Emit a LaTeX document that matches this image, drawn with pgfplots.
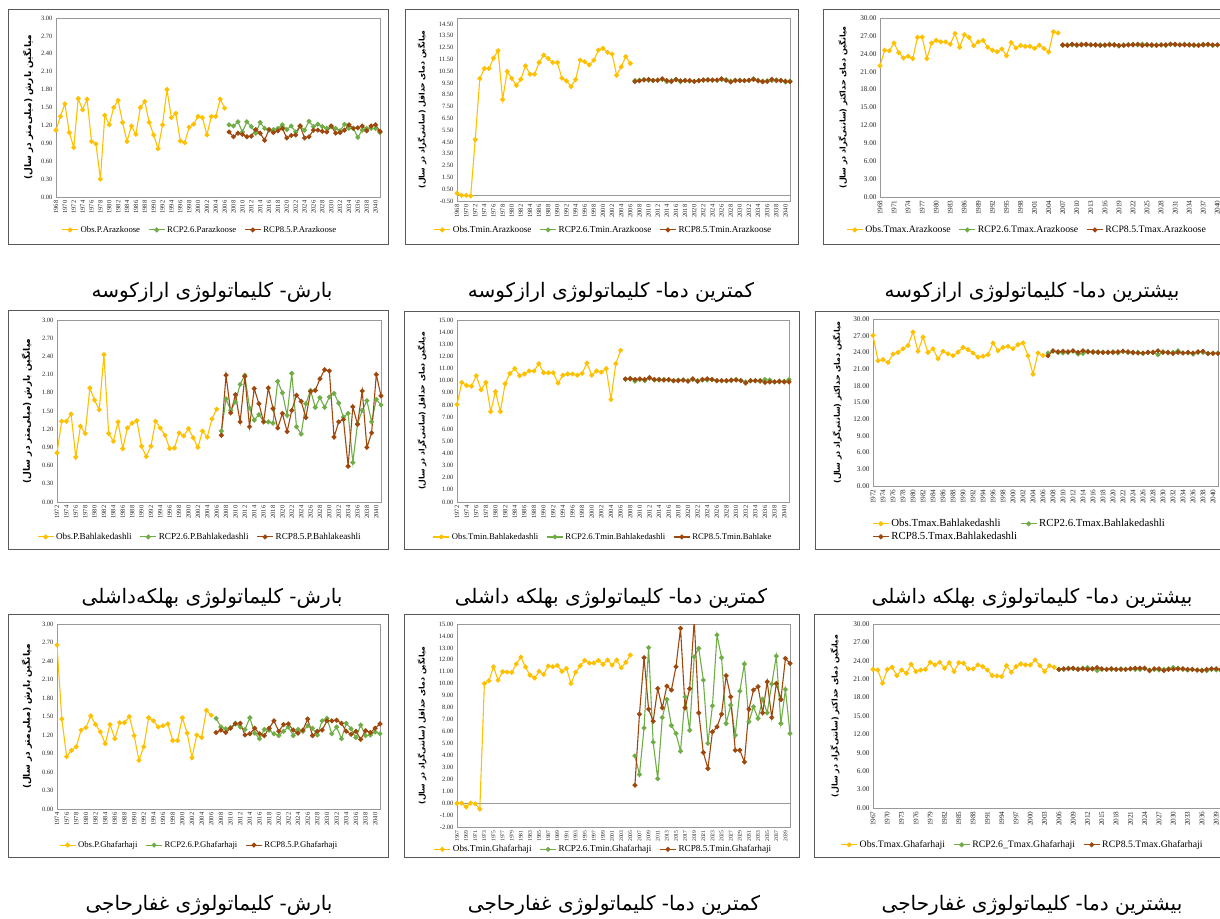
\documentclass[border=0pt]{standalone}
\usepackage{pgfplots}
\usepackage{pgfplotstable}
\pgfplotsset{compat=1.18}
\usepackage{fontspec}
\setmainfont{Liberation Serif}
\newfontfamily\arabicfont[Script=Arabic]{DejaVu Sans}
\TeXXeTstate=1
\definecolor{obsc}{HTML}{FFC000}
\definecolor{gtwo}{HTML}{70AD47}
\definecolor{beight}{HTML}{9E480E}

\pgfplotsset{
  panel/.style={
    scale only axis, anchor=north west, clip=true,
    axis line style={draw=black!40, line width=0.9pt},
    major tick length=0pt,
    tick label style={font=\fontsize{6.5}{7.5}\selectfont, text=black!85},
    /pgf/number format/assume math mode=true,
    x tick label style={rotate=90, anchor=east, /pgf/number format/1000 sep={}},
    y tick label style={/pgf/number format/fixed, /pgf/number format/fixed zerofill, /pgf/number format/precision=2},
    ylabel style={font=\arabicfont\bfseries, anchor=center},
    legend style={draw=none, fill=none, font=\fontsize{8.7}{10}\selectfont, anchor=center,
      /tikz/every even column/.append style={column sep=6pt}},
    legend columns=-1,
    legend cell align=left,
    legend image code/.code={\draw[mark repeat=2,mark phase=2,##1] plot coordinates {(0pt,0pt) (8pt,0pt) (16pt,0pt)};},
  },
  midcol/.style={legend style={font=\fontsize{9.2}{10.5}\selectfont}},
  rightcol/.style={tick label style={font=\fontsize{7.2}{8}\selectfont},
    legend style={font=\fontsize{9.8}{11}\selectfont}},
  obs/.style={color=obsc, line width=1.1pt, mark=*, mark size=1.9pt},
  rtwo/.style={color=gtwo, line width=1.1pt, mark=*, mark size=1.9pt},
  reight/.style={color=beight, line width=1.1pt, mark=*, mark size=1.9pt},
}

% ---------------- Panel 1: P Arazkoose
\pgfplotstableread{
year obs r26 r85
1968 1.12 nan nan
1969 1.35 nan nan
1970 1.56 nan nan
1971 1.08 nan nan
1972 0.83 nan nan
1973 1.65 nan nan
1974 1.46 nan nan
1975 1.64 nan nan
1976 0.93 nan nan
1977 0.89 nan nan
1978 0.30 nan nan
1979 1.37 nan nan
1980 1.21 nan nan
1981 1.50 nan nan
1982 1.62 nan nan
1983 1.25 nan nan
1984 0.93 nan nan
1985 1.19 nan nan
1986 1.05 nan nan
1987 1.50 nan nan
1988 1.60 nan nan
1989 1.25 nan nan
1990 1.04 nan nan
1991 0.81 nan nan
1992 1.21 nan nan
1993 1.80 nan nan
1994 1.33 nan nan
1995 1.40 nan nan
1996 0.94 nan nan
1997 0.91 nan nan
1998 1.17 nan nan
1999 1.22 nan nan
2000 1.35 nan nan
2001 1.33 nan nan
2002 1.04 nan nan
2003 1.35 nan nan
2004 1.35 nan nan
2005 1.64 nan nan
2006 1.49 nan nan
2007 nan 1.21 1.09
2008 nan 1.19 1.01
2009 nan 1.26 1.07
2010 nan 1.09 1.05
2011 nan 1.26 1.01
2012 nan 1.18 1.02
2013 nan 1.07 1.13
2014 nan 1.25 1.07
2015 nan 1.15 0.95
2016 nan 1.12 1.13
2017 nan 1.13 1.08
2018 nan 1.15 1.11
2019 nan 1.21 1.15
2020 nan 1.13 0.99
2021 nan 1.19 1.03
2022 nan 1.09 1.04
2023 nan 1.19 1.19
2024 nan 1.12 0.99
2025 nan 1.27 1.01
2026 nan 1.18 1.12
2027 nan 1.22 1.12
2028 nan 1.18 1.10
2029 nan 1.15 1.09
2030 nan 1.18 1.19
2031 nan 1.15 1.07
2032 nan 1.11 1.08
2033 nan 1.22 1.12
2034 nan 1.15 1.21
2035 nan 1.15 1.15
2036 nan 1.00 1.16
2037 nan 1.12 1.19
2038 nan 1.15 1.11
2039 nan 1.15 1.19
2040 nan 1.15 1.21
2041 nan 1.08 1.10
}\tA

% ---------------- Panel 2: Tmin Arazkoose
\pgfplotstableread{
year obs r26 r85
1968 0.15 nan nan
1969 -0.02 nan nan
1970 -0.02 nan nan
1971 -0.07 nan nan
1972 4.70 nan nan
1973 9.87 nan nan
1974 10.72 nan nan
1975 10.72 nan nan
1976 11.60 nan nan
1977 12.23 nan nan
1978 8.10 nan nan
1979 10.47 nan nan
1980 9.87 nan nan
1981 9.30 nan nan
1982 9.81 nan nan
1983 10.95 nan nan
1984 10.24 nan nan
1985 10.24 nan nan
1986 11.23 nan nan
1987 11.86 nan nan
1988 11.57 nan nan
1989 11.23 nan nan
1990 11.23 nan nan
1991 9.90 nan nan
1992 9.67 nan nan
1993 9.19 nan nan
1994 9.78 nan nan
1995 11.43 nan nan
1996 11.29 nan nan
1997 11.03 nan nan
1998 11.43 nan nan
1999 12.28 nan nan
2000 12.43 nan nan
2001 12.09 nan nan
2002 11.94 nan nan
2003 10.15 nan nan
2004 10.86 nan nan
2005 11.74 nan nan
2006 11.15 nan nan
2007 nan 9.70 9.62
2008 nan 9.72 9.68
2009 nan 9.78 9.75
2010 nan 9.72 9.80
2011 nan 9.70 9.72
2012 nan 9.75 9.72
2013 nan 9.80 9.85
2014 nan 9.62 9.70
2015 nan 9.70 9.62
2016 nan 9.80 9.78
2017 nan 9.60 9.68
2018 nan 9.72 9.70
2019 nan 9.65 9.70
2020 nan 9.65 9.62
2021 nan 9.68 9.70
2022 nan 9.72 9.75
2023 nan 9.78 9.75
2024 nan 9.72 9.75
2025 nan 9.72 9.75
2026 nan 9.78 9.85
2027 nan 9.78 9.72
2028 nan 9.65 9.58
2029 nan 9.72 9.70
2030 nan 9.72 9.70
2031 nan 9.70 9.70
2032 nan 9.72 9.72
2033 nan 9.85 9.80
2034 nan 9.72 9.68
2035 nan 9.65 9.60
2036 nan 9.68 9.62
2037 nan 9.72 9.80
2038 nan 9.75 9.70
2039 nan 9.68 9.72
2040 nan 9.58 9.65
2041 nan 9.65 9.60
}\tB

% ---------------- Panel 3: Tmax Arazkoose
\pgfplotstableread{
year obs r26 r85
1968 22.00 nan nan
1969 24.60 nan nan
1970 24.50 nan nan
1971 25.80 nan nan
1972 24.20 nan nan
1973 23.30 nan nan
1974 23.60 nan nan
1975 23.20 nan nan
1976 26.75 nan nan
1977 26.80 nan nan
1978 23.20 nan nan
1979 25.80 nan nan
1980 26.25 nan nan
1981 26.00 nan nan
1982 26.00 nan nan
1983 25.60 nan nan
1984 27.40 nan nan
1985 25.10 nan nan
1986 27.20 nan nan
1987 26.75 nan nan
1988 25.35 nan nan
1989 26.00 nan nan
1990 26.25 nan nan
1991 25.10 nan nan
1992 24.60 nan nan
1993 24.35 nan nan
1994 24.80 nan nan
1995 23.70 nan nan
1996 25.90 nan nan
1997 24.95 nan nan
1998 25.40 nan nan
1999 25.25 nan nan
2000 25.25 nan nan
2001 24.90 nan nan
2002 25.45 nan nan
2003 24.90 nan nan
2004 24.30 nan nan
2005 27.70 nan nan
2006 27.50 nan nan
2007 nan 25.4 25.5
2008 nan 25.5 25.4
2009 nan 25.5 25.6
2010 nan 25.4 25.5
2011 nan 25.6 25.5
2012 nan 25.5 25.6
2013 nan 25.5 25.5
2014 nan 25.5 25.5
2015 nan 25.5 25.4
2016 nan 25.4 25.5
2017 nan 25.6 25.5
2018 nan 25.5 25.5
2019 nan 25.3 25.4
2020 nan 25.5 25.4
2021 nan 25.5 25.5
2022 nan 25.6 25.5
2023 nan 25.5 25.6
2024 nan 25.6 25.4
2025 nan 25.5 25.5
2026 nan 25.4 25.5
2027 nan 25.5 25.4
2028 nan 25.5 25.5
2029 nan 25.4 25.5
2030 nan 25.6 25.6
2031 nan 25.5 25.6
2032 nan 25.5 25.5
2033 nan 25.6 25.5
2034 nan 25.5 25.5
2035 nan 25.4 25.5
2036 nan 25.5 25.4
2037 nan 25.6 25.5
2038 nan 25.5 25.6
2039 nan 25.4 25.5
2040 nan 25.5 25.5
2041 nan 25.4 25.5
}\tC

% ---------------- Panel 4: P Bahlakedashli
\pgfplotstableread{
year obs r26 r85
1972 0.81 nan nan
1973 1.33 nan nan
1974 1.33 nan nan
1975 1.45 nan nan
1976 0.74 nan nan
1977 1.25 nan nan
1978 1.13 nan nan
1979 1.88 nan nan
1980 1.68 nan nan
1981 1.52 nan nan
1982 2.43 nan nan
1983 1.13 nan nan
1984 1.00 nan nan
1985 1.32 nan nan
1986 0.88 nan nan
1987 1.22 nan nan
1988 1.30 nan nan
1989 1.34 nan nan
1990 0.92 nan nan
1991 0.75 nan nan
1992 0.92 nan nan
1993 1.33 nan nan
1994 1.22 nan nan
1995 1.10 nan nan
1996 0.88 nan nan
1997 0.89 nan nan
1998 1.14 nan nan
1999 1.09 nan nan
2000 1.21 nan nan
2001 1.06 nan nan
2002 0.90 nan nan
2003 1.17 nan nan
2004 1.07 nan nan
2005 1.37 nan nan
2006 1.53 nan nan
2007 nan 1.17 1.10
2008 nan 1.70 2.09
2009 nan 1.51 1.47
2010 nan 1.65 1.77
2011 nan 1.94 1.32
2012 nan 2.09 2.07
2013 nan 1.55 1.24
2014 nan 1.35 1.87
2015 nan 1.44 1.62
2016 nan 1.33 1.32
2017 nan 1.32 1.88
2018 nan 1.30 1.54
2019 nan 1.99 1.22
2020 nan 1.80 1.46
2021 nan 1.43 1.16
2022 nan 2.12 1.51
2023 nan 1.24 1.76
2024 nan 1.12 1.66
2025 nan 1.62 1.39
2026 nan 1.84 1.82
2027 nan 1.56 1.84
2028 nan 1.72 2.03
2029 nan 1.56 2.18
2030 nan 1.73 2.16
2031 nan 1.79 1.07
2032 nan 1.63 1.32
2033 nan 1.40 1.36
2034 nan 1.46 0.59
2035 nan 0.65 1.57
2036 nan 1.29 1.28
2037 nan 1.51 1.83
2038 nan 1.67 0.90
2039 nan 1.32 1.14
2040 nan 1.69 2.10
2041 nan 1.60 1.75
}\tD

% ---------------- Panel 5: Tmin Bahlakedashli
\pgfplotstableread{
year obs r26 r85
1972 8.04 nan nan
1973 9.85 nan nan
1974 9.60 nan nan
1975 9.55 nan nan
1976 10.40 nan nan
1977 9.25 nan nan
1978 9.85 nan nan
1979 7.45 nan nan
1980 9.10 nan nan
1981 7.45 nan nan
1982 9.75 nan nan
1983 10.60 nan nan
1984 11.00 nan nan
1985 10.40 nan nan
1986 10.55 nan nan
1987 10.80 nan nan
1988 10.80 nan nan
1989 11.40 nan nan
1990 10.65 nan nan
1991 10.65 nan nan
1992 10.65 nan nan
1993 9.80 nan nan
1994 10.45 nan nan
1995 10.55 nan nan
1996 10.55 nan nan
1997 10.45 nan nan
1998 10.60 nan nan
1999 11.45 nan nan
2000 10.45 nan nan
2001 10.80 nan nan
2002 10.70 nan nan
2003 11.00 nan nan
2004 8.45 nan nan
2005 11.40 nan nan
2006 12.50 nan nan
2007 nan 10.10 10.15
2008 nan 10.20 10.15
2009 nan 9.95 10.10
2010 nan 10.10 10.15
2011 nan 10.00 10.10
2012 nan 10.20 10.25
2013 nan 10.05 10.10
2014 nan 10.05 10.10
2015 nan 10.10 10.05
2016 nan 10.05 10.10
2017 nan 10.00 10.00
2018 nan 10.05 10.00
2019 nan 10.05 10.05
2020 nan 10.00 9.95
2021 nan 10.10 10.15
2022 nan 10.00 9.95
2023 nan 10.05 10.10
2024 nan 10.05 10.15
2025 nan 10.10 10.10
2026 nan 10.00 10.00
2027 nan 10.00 10.00
2028 nan 10.00 10.00
2029 nan 10.00 10.05
2030 nan 10.10 10.05
2031 nan 10.00 10.00
2032 nan 9.90 9.80
2033 nan 10.00 10.00
2034 nan 10.00 10.00
2035 nan 9.95 10.00
2036 nan 10.10 9.85
2037 nan 10.05 9.90
2038 nan 9.90 9.90
2039 nan 9.90 9.95
2040 nan 9.95 9.90
2041 nan 10.10 9.90
}\tE

% ---------------- Panel 6: Tmax Bahlakedashli
\pgfplotstableread{
year obs r26 r85
1972 27.05 nan nan
1973 22.50 nan nan
1974 22.70 nan nan
1975 22.20 nan nan
1976 23.70 nan nan
1977 24.00 nan nan
1978 24.65 nan nan
1979 25.25 nan nan
1980 27.65 nan nan
1981 24.20 nan nan
1982 26.75 nan nan
1983 24.00 nan nan
1984 24.65 nan nan
1985 22.85 nan nan
1986 24.20 nan nan
1987 23.75 nan nan
1988 23.40 nan nan
1989 24.05 nan nan
1990 24.90 nan nan
1991 24.50 nan nan
1992 23.90 nan nan
1993 23.15 nan nan
1994 23.30 nan nan
1995 23.60 nan nan
1996 25.70 nan nan
1997 24.30 nan nan
1998 24.90 nan nan
1999 25.10 nan nan
2000 24.65 nan nan
2001 25.40 nan nan
2002 25.70 nan nan
2003 23.40 nan nan
2004 20.10 nan nan
2005 23.90 nan nan
2006 23.45 nan nan
2007 nan 23.9 23.4
2008 nan 24.2 24.3
2009 nan 24.0 24.1
2010 nan 23.9 24.2
2011 nan 24.0 24.1
2012 nan 24.2 24.3
2013 nan 23.7 24.0
2014 nan 23.8 24.3
2015 nan 24.2 24.1
2016 nan 24.0 24.1
2017 nan 24.1 24.0
2018 nan 24.0 24.0
2019 nan 24.0 24.0
2020 nan 24.1 24.0
2021 nan 23.9 24.1
2022 nan 24.2 24.2
2023 nan 24.0 24.1
2024 nan 23.9 24.0
2025 nan 24.0 23.9
2026 nan 23.8 23.9
2027 nan 24.0 24.0
2028 nan 24.0 24.0
2029 nan 23.6 24.3
2030 nan 24.1 24.0
2031 nan 23.9 24.0
2032 nan 24.0 23.8
2033 nan 24.3 24.0
2034 nan 23.9 23.9
2035 nan 23.9 24.0
2036 nan 23.7 23.9
2037 nan 24.0 24.1
2038 nan 24.0 24.2
2039 nan 23.8 23.8
2040 nan 23.9 23.8
2041 nan 23.9 23.8
}\tF

% ---------------- Panel 7: P Ghafarhaji
\pgfplotstableread{
year obs r26 r85
1974 2.66 nan nan
1975 1.46 nan nan
1976 0.85 nan nan
1977 0.95 nan nan
1978 1.01 nan nan
1979 1.28 nan nan
1980 1.32 nan nan
1981 1.51 nan nan
1982 1.37 nan nan
1983 1.25 nan nan
1984 1.06 nan nan
1985 1.37 nan nan
1986 1.14 nan nan
1987 1.40 nan nan
1988 1.40 nan nan
1989 1.50 nan nan
1990 1.19 nan nan
1991 0.79 nan nan
1992 1.01 nan nan
1993 1.48 nan nan
1994 1.43 nan nan
1995 1.33 nan nan
1996 1.35 nan nan
1997 1.38 nan nan
1998 1.11 nan nan
1999 1.11 nan nan
2000 1.48 nan nan
2001 1.23 nan nan
2002 0.83 nan nan
2003 1.20 nan nan
2004 1.16 nan nan
2005 1.60 nan nan
2006 1.52 nan nan
2007 nan 1.47 1.24
2008 nan 1.33 1.28
2009 nan 1.30 1.24
2010 nan 1.32 1.31
2011 nan 1.39 1.38
2012 nan 1.33 1.39
2013 nan 1.29 1.20
2014 nan 1.48 1.22
2015 nan 1.23 1.31
2016 nan 1.14 1.22
2017 nan 1.29 1.19
2018 nan 1.28 1.31
2019 nan 1.22 1.43
2020 nan 1.19 1.26
2021 nan 1.26 1.37
2022 nan 1.33 1.38
2023 nan 1.19 1.28
2024 nan 1.29 1.23
2025 nan 1.26 1.28
2026 nan 1.35 1.46
2027 nan 1.31 1.19
2028 nan 1.20 1.26
2029 nan 1.43 1.28
2030 nan 1.47 1.43
2031 nan 1.22 1.43
2032 nan 1.33 1.44
2033 nan 1.14 1.39
2034 nan 1.39 1.26
2035 nan 1.30 1.21
2036 nan 1.16 1.26
2037 nan 1.36 1.13
2038 nan 1.19 1.27
2039 nan 1.20 1.24
2040 nan 1.25 1.31
2041 nan 1.22 1.38
}\tG

% ---------------- Panel 8: Tmin Ghafarhaji
\pgfplotstableread{
year obs r26 r85
1967 -0.02 nan nan
1968 0.00 nan nan
1969 -0.32 nan nan
1970 0.00 nan nan
1971 -0.05 nan nan
1972 -0.50 nan nan
1973 10.02 nan nan
1974 10.25 nan nan
1975 11.42 nan nan
1976 10.30 nan nan
1977 11.00 nan nan
1978 10.97 nan nan
1979 10.95 nan nan
1980 11.65 nan nan
1981 12.23 nan nan
1982 11.40 nan nan
1983 10.72 nan nan
1984 10.47 nan nan
1985 11.03 nan nan
1986 10.78 nan nan
1987 11.48 nan nan
1988 11.42 nan nan
1989 11.53 nan nan
1990 11.03 nan nan
1991 11.28 nan nan
1992 10.02 nan nan
1993 10.97 nan nan
1994 11.50 nan nan
1995 11.95 nan nan
1996 11.73 nan nan
1997 11.73 nan nan
1998 11.95 nan nan
1999 11.62 nan nan
2000 11.98 nan nan
2001 11.56 nan nan
2002 11.98 nan nan
2003 11.34 nan nan
2004 11.79 nan nan
2005 12.40 nan nan
2006 nan 3.96 1.50
2007 nan 2.39 7.45
2008 nan 6.30 12.18
2009 nan 13.02 7.87
2010 nan 5.10 6.86
2011 nan 2.05 9.60
2012 nan 7.17 7.98
2013 nan 8.68 9.80
2014 nan 6.50 9.47
2015 nan 5.83 11.42
2016 nan 4.35 14.64
2017 nan 8.90 7.98
2018 nan 6.10 9.58
2019 nan 12.26 15.30
2020 nan 12.96 7.56
2021 nan 10.30 4.24
2022 nan 5.00 2.90
2023 nan 8.15 5.97
2024 nan 14.08 6.39
2025 nan 12.18 7.45
2026 nan 6.67 10.67
2027 nan 8.20 8.90
2028 nan 5.69 4.43
2029 nan 9.38 4.43
2030 nan 11.65 3.45
2031 nan 6.81 7.87
2032 nan 8.07 9.47
2033 nan 7.09 9.75
2034 nan 8.71 7.56
2035 nan 7.56 10.16
2036 nan 9.97 7.17
2037 nan 12.32 10.02
2038 nan 6.67 8.68
2039 nan 9.52 12.12
2040 nan 5.83 11.70
}\tH

% ---------------- Panel 9: Tmax Ghafarhaji
\pgfplotstableread{
year obs r26 r85
1967 22.60 nan nan
1968 22.50 nan nan
1969 20.35 nan nan
1970 22.60 nan nan
1971 22.95 nan nan
1972 21.60 nan nan
1973 22.50 nan nan
1974 21.97 nan nan
1975 23.44 nan nan
1976 22.25 nan nan
1977 22.50 nan nan
1978 22.60 nan nan
1979 23.77 nan nan
1980 23.33 nan nan
1981 23.77 nan nan
1982 22.80 nan nan
1983 23.70 nan nan
1984 22.25 nan nan
1985 23.70 nan nan
1986 23.60 nan nan
1987 22.68 nan nan
1988 22.68 nan nan
1989 23.33 nan nan
1990 23.06 nan nan
1991 22.50 nan nan
1992 21.60 nan nan
1993 21.54 nan nan
1994 21.43 nan nan
1995 23.22 nan nan
1996 22.14 nan nan
1997 23.06 nan nan
1998 23.50 nan nan
1999 23.33 nan nan
2000 23.33 nan nan
2001 24.15 nan nan
2002 23.22 nan nan
2003 22.25 nan nan
2004 23.22 nan nan
2005 22.95 nan nan
2006 nan 22.6 22.6
2007 nan 22.6 22.7
2008 nan 22.8 22.7
2009 nan 22.7 22.8
2010 nan 22.7 22.6
2011 nan 22.8 22.7
2012 nan 22.9 22.6
2013 nan 22.7 22.7
2014 nan 22.4 22.9
2015 nan 22.6 22.7
2016 nan 22.6 22.6
2017 nan 22.6 22.7
2018 nan 22.6 22.6
2019 nan 22.7 22.6
2020 nan 22.6 22.6
2021 nan 22.7 22.7
2022 nan 22.6 22.8
2023 nan 22.6 22.8
2024 nan 22.7 22.8
2025 nan 22.5 22.4
2026 nan 22.6 22.7
2027 nan 22.5 22.7
2028 nan 22.6 22.4
2029 nan 22.7 22.6
2030 nan 22.9 22.6
2031 nan 22.8 22.7
2032 nan 22.6 22.7
2033 nan 22.5 22.6
2034 nan 22.6 22.6
2035 nan 22.5 22.5
2036 nan 22.5 22.4
2037 nan 22.4 22.6
2038 nan 22.6 22.7
2039 nan 22.5 22.7
2040 nan 22.4 22.6
}\tI

\newcommand{\ylP}{\fontsize{9}{10}\selectfont\beginR میانگین بارش (میلی‌متر در سال)\endR}
\newcommand{\ylTmin}{\fontsize{7.7}{9}\selectfont\beginR میانگین دمای حداقل (سانتی‌گراد در سال)\endR}
\newcommand{\ylTmax}{\fontsize{7.9}{9}\selectfont\beginR میانگین دمای حداکثر (سانتی‌گراد در سال)\endR}
\newcommand{\capfont}{\arabicfont\fontsize{20}{23}\selectfont}

\begin{document}
\begin{tikzpicture}
\useasboundingbox (0,0) rectangle (1220pt,-918pt);
\clip (0,0) rectangle (1220pt,-918pt);

% panel frames
\tikzset{pbox/.style={draw=black!65, line width=0.8pt}}
\draw[pbox] (8pt,-9pt) rectangle (388pt,-244pt);
\draw[pbox] (405pt,-9pt) rectangle (798pt,-244pt);
\draw[pbox] (823pt,-9pt) rectangle (1240pt,-244pt);
\draw[pbox] (8pt,-310pt) rectangle (388pt,-549pt);
\draw[pbox] (404pt,-311pt) rectangle (799pt,-549pt);
\draw[pbox] (815pt,-311pt) rectangle (1240pt,-549pt);
\draw[pbox] (8pt,-614pt) rectangle (388pt,-857pt);
\draw[pbox] (404pt,-614pt) rectangle (799pt,-857pt);
\draw[pbox] (814pt,-614pt) rectangle (1240pt,-857pt);

% ===== Row 1
\begin{axis}[panel, at={(56pt,-18pt)}, width=324pt, height=179pt,
  xmin=1968, xmax=2041, ymin=0, ymax=3,
  ytick={0,0.3,0.6,0.9,1.2,1.5,1.8,2.1,2.4,2.7,3},
  xtick={1968,1970,...,2040},
  ylabel={\ylP}, ylabel style={at={(axis description cs:-0.086,0.5)}},
  legend style={at={(0.444,-0.184)}}]
\addplot[obs] table[x=year,y=obs]{\tA};
\addplot[rtwo] table[x=year,y=r26]{\tA};
\addplot[reight] table[x=year,y=r85]{\tA};
\legend{Obs.P.Arazkoose, RCP2.6.Parazkoose, RCP8.5.P.Arazkoose}
\end{axis}

\begin{axis}[panel, midcol, at={(457pt,-18pt)}, width=333pt, height=183pt,
  xmin=1968, xmax=2041, ymin=-0.5, ymax=15,
  ytick={-0.5,0.5,...,14.5},
  xtick={1968,1970,...,2040},
  ylabel={\ylTmin}, ylabel style={at={(axis description cs:-0.105,0.5)}},
  legend style={at={(0.44,-0.158)}}]
\draw[black!40, line width=0.8pt] (axis cs:1968,0) -- (axis cs:2041,0);
\addplot[obs] table[x=year,y=obs]{\tB};
\addplot[rtwo] table[x=year,y=r26]{\tB};
\addplot[reight] table[x=year,y=r85]{\tB};
\legend{Obs.Tmin.Arazkoose, RCP2.6.Tmin.Arazkoose, RCP8.5.Tmin.Arazkoose}
\end{axis}

\begin{axis}[panel, rightcol, at={(880pt,-18pt)}, width=342pt, height=179pt,
  xmin=1968, xmax=2041, ymin=0, ymax=30,
  ytick={0,3,...,30},
  xtick={1968,1971,...,2040},
  ylabel={\ylTmax}, ylabel style={at={(axis description cs:-0.108,0.5)}},
  legend style={at={(0.43,-0.184)}}]
\addplot[obs] table[x=year,y=obs]{\tC};
\addplot[rtwo] table[x=year,y=r26]{\tC};
\addplot[reight] table[x=year,y=r85]{\tC};
\legend{Obs.Tmax.Arazkoose, RCP2.6.Tmax.Arazkoose, RCP8.5.Tmax.Arazkoose}
\end{axis}

% ===== Row 2
\begin{axis}[panel, at={(57pt,-320pt)}, width=324pt, height=182pt,
  xmin=1972, xmax=2041, ymin=0, ymax=3,
  ytick={0,0.3,0.6,0.9,1.2,1.5,1.8,2.1,2.4,2.7,3},
  xtick={1972,1974,...,2040},
  ylabel={\ylP}, ylabel style={at={(axis description cs:-0.093,0.5)}},
  legend style={at={(0.441,-0.192)}, font=\fontsize{9.2}{10.5}\selectfont}]
\addplot[obs] table[x=year,y=obs]{\tD};
\addplot[rtwo] table[x=year,y=r26]{\tD};
\addplot[reight] table[x=year,y=r85]{\tD};
\legend{Obs.P.Bahlakedashli, RCP2.6.P.Bahlakedashli, RCP8.5.P.Bahlakeashli}
\end{axis}

\begin{axis}[panel, at={(457pt,-320pt)}, width=332pt, height=182pt,
  xmin=1972, xmax=2041, ymin=0, ymax=15,
  ytick={0,1,...,15},
  xtick={1972,1974,...,2040},
  ylabel={\ylTmin}, ylabel style={at={(axis description cs:-0.105,0.5)}},
  legend style={at={(0.44,-0.192)}}]
\addplot[obs] table[x=year,y=obs]{\tE};
\addplot[rtwo] table[x=year,y=r26]{\tE};
\addplot[reight] table[x=year,y=r85]{\tE};
\legend{Obs.Tmin.Bahlakedashli, RCP2.6.Tmin.Bahlakedashli, RCP8.5.Tmin.Bahlake}
\end{axis}

\begin{axis}[panel, rightcol, at={(873pt,-319pt)}, width=345pt, height=167pt,
  xmin=1972, xmax=2041, ymin=0, ymax=30,
  ytick={0,3,...,30},
  xtick={1972,1974,...,2040},
  ylabel={\ylTmax}, ylabel style={at={(axis description cs:-0.104,0.5)}},
  legend columns=2,
  legend style={at={(0.425,-0.265)}, font=\fontsize{10.8}{12}\selectfont,
    /tikz/every even column/.append style={column sep=1pt}}]
\addplot[obs] table[x=year,y=obs]{\tF};
\addplot[rtwo] table[x=year,y=r26]{\tF};
\addplot[reight] table[x=year,y=r85]{\tF};
\legend{Obs.Tmax.Bahlakedashli, RCP2.6.Tmax.Bahlakedashli, RCP8.5.Tmax.Bahlakedashli}
\end{axis}

% ===== Row 3
\begin{axis}[panel, at={(57pt,-624pt)}, width=323pt, height=185pt,
  xmin=1974, xmax=2041, ymin=0, ymax=3,
  ytick={0,0.3,0.6,0.9,1.2,1.5,1.8,2.1,2.4,2.7,3},
  xtick={1974,1976,...,2040},
  ylabel={\ylP}, ylabel style={at={(axis description cs:-0.093,0.5)}},
  legend style={at={(0.44,-0.195)}}]
\addplot[obs] table[x=year,y=obs]{\tG};
\addplot[rtwo] table[x=year,y=r26]{\tG};
\addplot[reight] table[x=year,y=r85]{\tG};
\legend{Obs.P.Ghafarhaji, RCP2.6.P.Ghafarhaji, RCP8.5.P.Ghafarhaji}
\end{axis}

\begin{axis}[panel, midcol, at={(457pt,-624pt)}, width=333pt, height=203pt,
  xmin=1967, xmax=2040, ymin=-2, ymax=15,
  ytick={-2,-1,...,15},
  xtick={1967,1969,...,2039},
  x tick label style={font=\fontsize{5.6}{6}\selectfont},
  ylabel={\ylTmin}, ylabel style={at={(axis description cs:-0.105,0.5)}},
  legend style={at={(0.44,-0.11)}}]
\draw[black!40, line width=0.8pt] (axis cs:1967,0) -- (axis cs:2040,0);
\addplot[obs] table[x=year,y=obs]{\tH};
\addplot[rtwo] table[x=year,y=r26]{\tH};
\addplot[reight] table[x=year,y=r85]{\tH};
\legend{Obs.Tmin.Ghafarhaji, RCP2.6.Tmin.Ghafarhaji, RCP8.5.Tmin.Ghafarhaji}
\end{axis}

\begin{axis}[panel, rightcol, at={(873pt,-624pt)}, width=348pt, height=184pt,
  xmin=1967, xmax=2040, ymin=0, ymax=30,
  ytick={0,3,...,30},
  xtick={1967,1970,...,2039},
  ylabel={\ylTmax}, ylabel style={at={(axis description cs:-0.109,0.5)}},
  legend style={at={(0.43,-0.2)}}]
\addplot[obs] table[x=year,y=obs]{\tI};
\addplot[rtwo] table[x=year,y=r26]{\tI};
\addplot[reight] table[x=year,y=r85]{\tI};
\legend{Obs.Tmax.Ghafarhaji, RCP2.6\_Tmax.Ghafarhaji, RCP8.5.Tmax.Ghafarhaji}
\end{axis}

% captions
\node[font=\capfont] at (212pt,-292pt) {\beginR بارش- کلیماتولوژی ارازکوسه\endR};
\node[font=\capfont] at (611pt,-292pt) {\beginR کمترین دما- کلیماتولوژی ارازکوسه\endR};
\node[font=\capfont] at (1032pt,-292pt) {\beginR بیشترین دما- کلیماتولوژی ارازکوسه\endR};
\node[font=\capfont] at (212pt,-598pt) {\beginR بارش- کلیماتولوژی بهلکه‌داشلی\endR};
\node[font=\capfont] at (611pt,-598pt) {\beginR کمترین دما- کلیماتولوژی بهلکه داشلی\endR};
\node[font=\capfont] at (1032pt,-598pt) {\beginR بیشترین دما- کلیماتولوژی بهلکه داشلی\endR};
\node[font=\capfont] at (209pt,-905pt) {\beginR بارش- کلیماتولوژی غفارحاجی\endR};
\node[font=\capfont] at (614pt,-905pt) {\beginR کمترین دما- کلیماتولوژی غفارحاجی\endR};
\node[font=\capfont] at (1032pt,-905pt) {\beginR بیشترین دما- کلیماتولوژی غفارحاجی\endR};
\end{tikzpicture}
\end{document}
